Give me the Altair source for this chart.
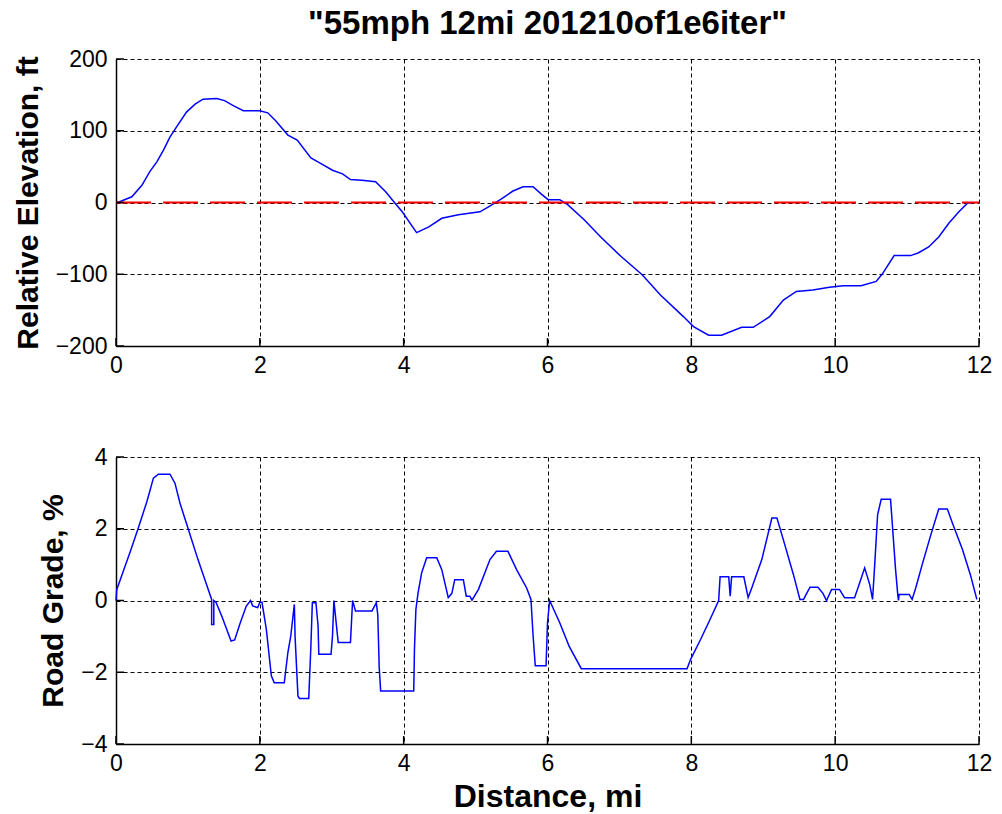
import altair as alt
import pandas as pd

TITLE = '"55mph 12mi 201210of1e6iter"'
X_TITLE = "Distance, mi"
ELEV_TITLE = "Relative Elevation, ft"
GRADE_TITLE = "Road Grade, %"

elev_x = [0, 0.05, 0.22, 0.36, 0.47, 0.57, 0.66, 0.75, 0.84, 0.98, 1.10, 1.21, 1.40, 1.51,
          1.63, 1.77, 2.00, 2.11, 2.22, 2.39, 2.52, 2.71, 2.82, 3.01, 3.15, 3.26, 3.42, 3.61,
          3.75, 3.88, 3.98, 4.18, 4.35, 4.53, 4.76, 5.06, 5.18, 5.36, 5.52, 5.66, 5.80, 5.91,
          6.01, 6.17, 6.28, 6.51, 6.74, 7.02, 7.32, 7.57, 7.89, 8.03, 8.24, 8.42, 8.70, 8.86,
          9.09, 9.28, 9.46, 9.69, 9.92, 10.11, 10.36, 10.57, 10.66, 10.82, 11.05, 11.16, 11.30,
          11.44, 11.58, 11.72, 11.84, 11.90]
elev_y = [0, 1, 8, 24, 43, 57, 73, 91, 105, 126, 137, 144, 145, 142,
          135, 128, 128, 125, 114, 94, 87, 62, 56, 45, 40, 32, 31, 29,
          15, -1, -13, -42, -34, -22, -17, -13, -6, 5, 16, 22, 22, 12,
          4, 4, -3, -24, -48, -75, -101, -129, -159, -173, -185, -185, -174, -174,
          -159, -136, -124, -122, -118, -116, -116, -110, -99, -74, -74, -70, -62,
          -48, -29, -13, -1, 0]

grade_x = [0, 0.01, 0.20, 0.31, 0.43, 0.52, 0.59, 0.75, 0.82, 0.89, 1.00, 1.14, 1.26, 1.33,
           1.33, 1.36, 1.36, 1.39, 1.47, 1.60, 1.65, 1.72, 1.81, 1.87, 1.90, 1.97, 2.00, 2.03,
           2.09, 2.16, 2.20, 2.34, 2.39, 2.43, 2.48, 2.49, 2.53, 2.55, 2.68, 2.71, 2.73, 2.78,
           2.81, 2.82, 2.99, 3.01, 3.03, 3.05, 3.09, 3.26, 3.29, 3.33, 3.56, 3.62, 3.64, 3.66,
           3.68, 4.14, 4.15, 4.17, 4.20, 4.25, 4.32, 4.46, 4.53, 4.62, 4.67, 4.71, 4.83, 4.87,
           4.92, 4.95, 5.04, 5.20, 5.29, 5.45, 5.57, 5.71, 5.77, 5.80, 5.83, 5.98, 6.00, 6.03,
           6.17, 6.30, 6.47, 7.94, 7.99, 8.13, 8.26, 8.38, 8.40, 8.52, 8.54, 8.56, 8.73, 8.79,
           8.84, 8.98, 9.12, 9.19, 9.28, 9.42, 9.51, 9.56, 9.65, 9.76, 9.83, 9.88, 9.95, 10.06,
           10.13, 10.27, 10.34, 10.41, 10.48, 10.52, 10.55, 10.59, 10.64, 10.77, 10.84, 10.87,
           10.88, 10.89, 11.03, 11.07, 11.12, 11.21, 11.33, 11.44, 11.56, 11.63, 11.77, 11.88,
           11.97]
grade_y = [0, 0.30, 1.37, 2.02, 2.76, 3.41, 3.52, 3.52, 3.27, 2.71, 2.02, 1.14, 0.44, 0.03,
           -0.67, -0.67, 0, -0.05, -0.43, -1.13, -1.10, -0.67, -0.16, 0, -0.15, -0.20, -0.05, -0.05,
           -0.80, -2.10, -2.29, -2.29, -1.45, -0.99, -0.11, -1.00, -2.66, -2.73, -2.73, -1.27, -0.06, -0.06,
           -0.71, -1.50, -1.50, -1.00, 0, -0.40, -1.17, -1.17, 0, -0.29, -0.29, -0.06, -0.40, -1.87,
           -2.52, -2.52, -1.36, -0.25, 0.21, 0.77, 1.19, 1.19, 0.86, 0.08, 0.20, 0.58, 0.58, 0.12,
           0.12, 0.01, 0.31, 1.14, 1.37, 1.37, 0.86, 0.35, 0.03, -0.99, -1.82, -1.82, -0.62, 0,
           -0.62, -1.27, -1.90, -1.90, -1.64, -1.08, -0.53, 0, 0.66, 0.66, 0.12, 0.66, 0.66, 0.08,
           0.35, 1.14, 2.30, 2.30, 1.69, 0.72, 0.03, 0.03, 0.37, 0.37, 0.20, 0, 0.31, 0.31,
           0.08, 0.08, 0.49, 0.91, 0.45, 0.03, 1.00, 2.39, 2.82, 2.82, 0.86, 0.17,
           0, 0.17, 0.17, 0.03, 0.35, 1.00, 1.83, 2.55, 2.55, 2.16, 1.42, 0.72,
           0.03]

x_ticks = [0, 2, 4, 6, 8, 10, 12]
elev_ticks = [-200, -100, 0, 100, 200]
grade_ticks = [-4, -2, 0, 2, 4]
zero_x = [0, 12]
zero_y = [0, 0]

W = 863
H1, H2 = 287, 287
FONT = "Liberation Sans"
BLUE = "#0000ff"
RED = "#ff0000"
LBL = 23

elev_df = pd.DataFrame({"x": elev_x, "y": elev_y, "i": list(range(len(elev_x)))})
grade_df = pd.DataFrame({"x": grade_x, "y": grade_y, "i": list(range(len(grade_x)))})
zero_df = pd.DataFrame({"x": zero_x, "y": zero_y})
xt_df = pd.DataFrame({"x": x_ticks})
et_df = pd.DataFrame({"y": elev_ticks})
gt_df = pd.DataFrame({"y": grade_ticks})
title_df = pd.DataFrame({"t": [TITLE]})

xscale = alt.Scale(domain=[0, 12], nice=False, zero=False)


def x_axis(title):
    kw = dict(values=x_ticks, format="d", grid=True, gridColor="black", gridDash=[4, 3],
              gridOpacity=1, gridWidth=1, domainColor="black", domainWidth=1.5, ticks=False,
              labelFont=FONT, labelFontSize=LBL, labelColor="black", labelPadding=8,
              labelFlush=False, labelOverlap=False, labelBound=False, zindex=0)
    if title:
        kw.update(title=title, titleFont=FONT, titleFontSize=32, titleFontWeight="bold",
                  titleColor="black", titlePadding=6)
    else:
        kw.update(title="")
    return alt.Axis(**kw)


def y_axis(title, values):
    return alt.Axis(values=values, format="d", grid=True, gridColor="black", gridDash=[4, 3],
                    gridOpacity=1, gridWidth=1, domainColor="black", domainWidth=1.5,
                    ticks=False, labelFont=FONT, labelFontSize=LBL, labelColor="black",
                    labelPadding=9, labelFlush=False, labelOverlap=False, labelBound=False,
                    title=title, titleFont=FONT, titleFontSize=30, titleFontWeight="bold",
                    titleColor="black", titlePadding=12, zindex=0)


def panel(df, yscale, ytitle, yvals, ytick_df, xtitle, H, red=False, title=False):
    xa = x_axis(xtitle)
    ya = y_axis(ytitle, yvals)
    line = alt.Chart(df).mark_line(color=BLUE, strokeWidth=1.5, strokeJoin="miter").encode(
        x=alt.X("x:Q", scale=xscale, axis=xa),
        y=alt.Y("y:Q", scale=yscale, axis=ya),
        order="i:Q",
    )
    xt = alt.Chart(xt_df).mark_rule(color="black", strokeWidth=1.5).encode(
        x=alt.X("x:Q", scale=xscale, axis=xa),
        y=alt.value(H), y2=alt.value(H - 8),
    )
    yt = alt.Chart(ytick_df).mark_rule(color="black", strokeWidth=1.5).encode(
        y=alt.Y("y:Q", scale=yscale, axis=ya),
        x=alt.value(0), x2=alt.value(8),
    )
    layers = [line]
    if red:
        zl = alt.Chart(zero_df).mark_line(color=RED, strokeWidth=2, strokeDash=[35, 12]).encode(
            x=alt.X("x:Q", scale=xscale, axis=xa),
            y=alt.Y("y:Q", scale=yscale, axis=ya),
        )
        layers.append(zl)
    layers += [xt, yt]
    if title:
        tt = alt.Chart(title_df).mark_text(font=FONT, fontSize=33, fontWeight="bold",
                                           color="black", align="center",
                                           baseline="alphabetic").encode(
            text="t:N", x=alt.value(W / 2), y=alt.value(-25),
        )
        layers.append(tt)
    return alt.layer(*layers).properties(width=W, height=H)


top = panel(elev_df, alt.Scale(domain=[-200, 200], nice=False, zero=False), ELEV_TITLE,
            elev_ticks, et_df, None, H1, red=True, title=True)
bottom = panel(grade_df, alt.Scale(domain=[-4, 4], nice=False, zero=False), GRADE_TITLE,
               grade_ticks, gt_df, X_TITLE, H2)

chart = alt.vconcat(top, bottom, spacing=69).properties(
    padding={"left": 5, "top": 0, "right": 0, "bottom": 0},
    background="white",
).configure_view(stroke=None)

chart.save("out.html", embed_options={"renderer": "svg", "actions": False})
